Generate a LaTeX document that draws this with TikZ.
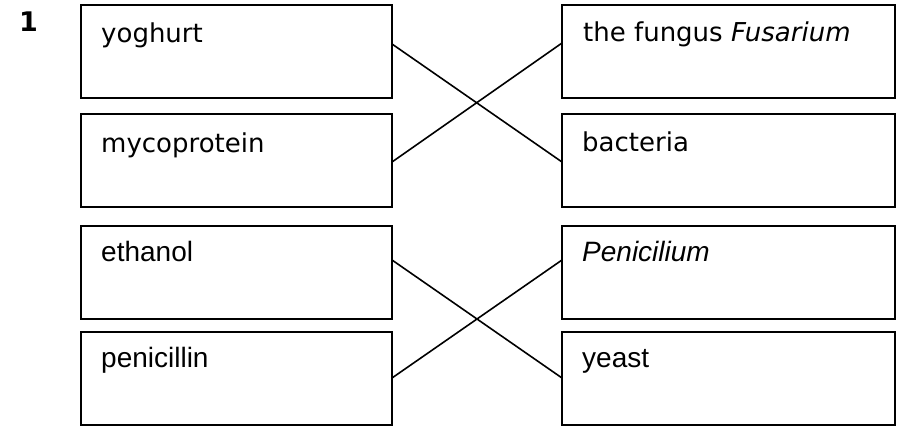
\documentclass[tikz,border=0pt]{standalone}
\usepackage{fontspec}
\newfontfamily\tahfont{DejaVu Sans}
\newfontfamily\arifont{Liberation Sans}
\usetikzlibrary{calc}
\tikzset{
  box/.style={draw=black, line width=2pt, inner sep=0pt, outer sep=0pt, anchor=north west, minimum height=93pt},
  lbox/.style={box, minimum width=311pt},
  rbox/.style={box, minimum width=333pt},
  txta/.style={anchor=base west, inner sep=0pt, font=\tahfont\fontsize{26}{30}\selectfont},
  txtb/.style={anchor=base west, inner sep=0pt, font=\arifont\fontsize{28}{32}\selectfont},
  link/.style={draw=black, line width=1.6pt}
}
\begin{document}
\begin{tikzpicture}[x=1pt,y=1pt]
\useasboundingbox (0,0) rectangle (902,-430);
\node[anchor=base west, inner sep=0pt, font=\tahfont\bfseries\fontsize{27}{30}\selectfont] (num) at (19,-32) {1};
% left boxes
\node[lbox] (yog) at (81,-5) {};
\node[lbox] (myc) at (81,-114) {};
\node[lbox] (eth) at (81,-226) {};
\node[lbox] (pen) at (81,-332) {};
% right boxes
\node[rbox] (fus) at (562,-5) {};
\node[rbox] (bac) at (562,-114) {};
\node[rbox] (peni) at (562,-226) {};
\node[rbox] (yea) at (562,-332) {};
% texts
\node[txta] (yogt) at ([xshift=20,yshift=-38]yog.north west) {yoghurt};
\node[txta] (myct) at ([xshift=20,yshift=-39]myc.north west) {mycoprotein};
\node[txtb] (etht) at ([xshift=20,yshift=-36]eth.north west) {ethanol};
\node[txtb] (pent) at ([xshift=20,yshift=-35]pen.north west) {penicillin};
\node[txta] (fust) at ([xshift=21,yshift=-37]fus.north west) {the fungus \textit{Fusarium}};
\node[txta] (bact) at ([xshift=20,yshift=-38]bac.north west) {bacteria};
\node[txtb] (penit) at ([xshift=20,yshift=-36]peni.north west) {\itshape Penicilium};
\node[txtb] (yeat) at ([xshift=20,yshift=-35]yea.north west) {yeast};
% connectors
\draw[link] ([yshift=-39]yog.north east) -- ([yshift=-48]bac.north west);
\draw[link] ([yshift=-48]myc.north east) -- ([yshift=-38]fus.north west);
\draw[link] ([yshift=-34]eth.north east) -- ([yshift=-46]yea.north west);
\draw[link] ([yshift=-46]pen.north east) -- ([yshift=-34]peni.north west);
\end{tikzpicture}
\end{document}
